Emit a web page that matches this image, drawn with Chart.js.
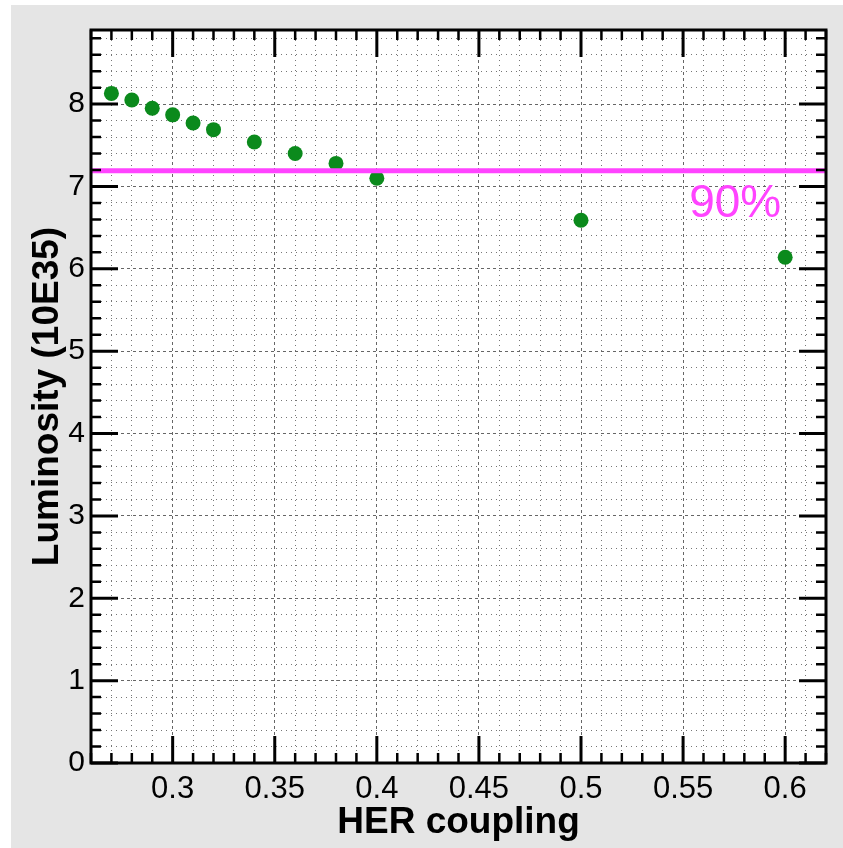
<!DOCTYPE html>
<html>
<head>
<meta charset="utf-8">
<script src="https://cdn.jsdelivr.net/npm/chart.js@4.4.1/dist/chart.umd.min.js"></script>
<style>
  html, body { margin: 0; padding: 0; background: #fff; }
  #wrap { position: absolute; left: 11px; top: 5px; width: 832px; height: 843px; background: #e5e5e5; }
</style>
</head>
<body>
<div id="wrap"><canvas id="lumi"></canvas></div>
<script>
// measured points
const coupling = [0.27, 0.28, 0.29, 0.30, 0.31, 0.32, 0.34, 0.36, 0.38, 0.40, 0.50, 0.60];
const luminosity = [8.13, 8.05, 7.95, 7.87, 7.77, 7.69, 7.54, 7.40, 7.28, 7.10, 6.59, 6.14];

// 90% line
const limitX = [0.26, 0.62];
const limitY = [7.19, 7.19];
const limitText = '90%';
const limitTextAt = [0.553, 6.63];

const xRange = [0.26, 0.62];
const yRange = [0, 8.9];

const FONT = "'Liberation Sans', Arial, Helvetica, sans-serif";

const near = (v, step) => Math.abs(v / step - Math.round(v / step)) < 1e-6;
const majorX = v => near(v, 0.05);
const majorY = v => near(v, 1);

function gridDash(isMajor) {
  return ctx => (ctx.tick && isMajor(ctx.tick.value)) ? [3, 3] : [1, 4];
}

// ROOT style frame with ticks pointing inward, plus the 90% note
const frame = {
  id: 'frame',
  beforeDraw(chart) {
    const {ctx, chartArea: a} = chart;
    ctx.save();
    ctx.fillStyle = '#fff';
    ctx.fillRect(a.left, a.top, a.width, a.height);
    ctx.restore();
  },
  afterDraw(chart) {
    const {ctx, chartArea: a, scales: {x, y}} = chart;
    ctx.save();
    ctx.strokeStyle = '#000';
    x.ticks.forEach(t => {
      const px = x.getPixelForValue(t.value);
      const len = majorX(t.value) ? 27 : 10;
      ctx.lineWidth = majorX(t.value) ? 3 : 2.5;
      ctx.beginPath();
      ctx.moveTo(px, a.bottom); ctx.lineTo(px, a.bottom - len);
      ctx.moveTo(px, a.top); ctx.lineTo(px, a.top + len);
      ctx.stroke();
    });
    y.ticks.forEach(t => {
      const py = y.getPixelForValue(t.value);
      const len = majorY(t.value) ? 27 : 10;
      ctx.lineWidth = majorY(t.value) ? 3 : 2.5;
      ctx.beginPath();
      ctx.moveTo(a.left, py); ctx.lineTo(a.left + len, py);
      ctx.moveTo(a.right, py); ctx.lineTo(a.right - len, py);
      ctx.stroke();
    });
    ctx.lineWidth = 3;
    ctx.strokeRect(a.left, a.top, a.width, a.height);

    ctx.fillStyle = '#ff44ff';
    ctx.font = '46px ' + FONT;
    ctx.textAlign = 'left';
    ctx.textBaseline = 'alphabetic';
    ctx.fillText(limitText, x.getPixelForValue(limitTextAt[0]), y.getPixelForValue(limitTextAt[1]));
    ctx.restore();
  }
};

new Chart(document.getElementById('lumi'), {
  type: 'scatter',
  data: {
    datasets: [
      {
        label: '90%',
        type: 'line',
        data: limitX.map((v, i) => ({x: v, y: limitY[i]})),
        borderColor: '#ff44ff',
        borderWidth: 5,
        pointRadius: 0,
        fill: false
      },
      {
        label: 'Luminosity',
        data: coupling.map((v, i) => ({x: v, y: luminosity[i]})),
        backgroundColor: '#0b8a1c',
        borderWidth: 0,
        pointRadius: 7.5
      }
    ]
  },
  options: {
    responsive: true,
    maintainAspectRatio: false,
    animation: false,
    layout: { padding: { top: 25, right: 17, left: 0, bottom: 0 } },
    plugins: {
      legend: { display: false },
      tooltip: { enabled: false }
    },
    scales: {
      x: {
        type: 'linear',
        min: xRange[0],
        max: xRange[1],
        afterFit: s => { s.height = 85; },
        ticks: {
          stepSize: 0.01,
          includeBounds: false,
          autoSkip: false,
          maxRotation: 0,
          minRotation: 0,
          padding: 8,
          color: '#000',
          font: { family: FONT, size: 31 },
          callback: v => majorX(v) ? String(parseFloat(v.toFixed(2))) : ''
        },
        grid: {
          drawTicks: false,
          color: ctx => (ctx.tick && majorX(ctx.tick.value)) ? '#666' : '#777',
          lineWidth: 1
        },
        border: { display: false, dash: gridDash(majorX) },
        title: {
          display: true,
          text: 'HER coupling',
          color: '#000',
          font: { family: FONT, size: 37, weight: 'bold' },
          padding: { top: 0, bottom: 3 }
        }
      },
      y: {
        min: yRange[0],
        max: yRange[1],
        afterFit: s => { s.width = 80; },
        ticks: {
          stepSize: 0.2,
          includeBounds: false,
          autoSkip: false,
          padding: 6,
          color: '#000',
          font: { family: FONT, size: 30 },
          callback: v => majorY(v) ? String(Math.round(v)) : ''
        },
        grid: {
          drawTicks: false,
          color: ctx => (ctx.tick && majorY(ctx.tick.value)) ? '#666' : '#777',
          lineWidth: 1
        },
        border: { display: false, dash: gridDash(majorY) },
        title: {
          display: true,
          text: 'Luminosity (10E35)',
          color: '#000',
          font: { family: FONT, size: 37, weight: 'bold' },
          padding: { top: 15, bottom: 0 }
        }
      }
    }
  },
  plugins: [frame]
});
</script>
</body>
</html>
